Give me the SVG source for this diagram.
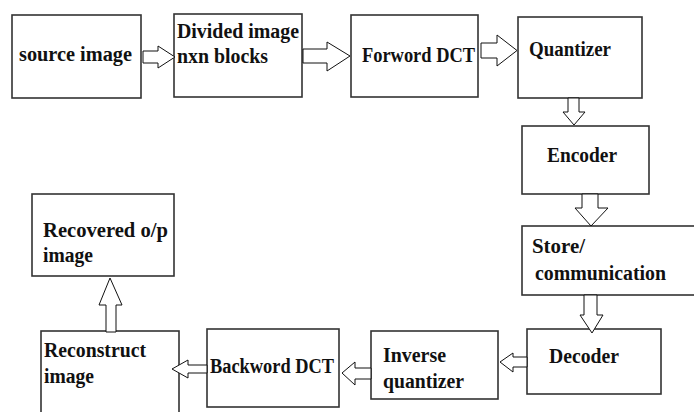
<svg xmlns="http://www.w3.org/2000/svg" width="694" height="412" viewBox="0 0 694 412">
<style>
.box{fill:#fff;stroke:#333;stroke-width:1.6}
.arr{fill:#fff;stroke:#111;stroke-width:1;stroke-linejoin:miter}
text{font-family:"Liberation Serif","Times New Roman",serif;font-weight:bold;font-size:20px;fill:#111}
</style>
<rect width="694" height="412" fill="#fff"/>
<g id="source"><rect class="box" x="12" y="15" width="129" height="83"/><text x="19" y="61" textLength="113" lengthAdjust="spacingAndGlyphs">source image</text></g>
<g id="divided"><rect class="box" x="174" y="14" width="128" height="83"/><text x="177" y="38" textLength="122" lengthAdjust="spacingAndGlyphs">Divided image</text><text x="177" y="63" textLength="91" lengthAdjust="spacingAndGlyphs">nxn blocks</text></g>
<g id="fdct"><rect class="box" x="351" y="15" width="127" height="82"/><text x="362" y="62" textLength="113" lengthAdjust="spacingAndGlyphs">Forword DCT</text></g>
<g id="quantizer"><rect class="box" x="518" y="17" width="124" height="81"/><text x="529" y="56" textLength="82" lengthAdjust="spacingAndGlyphs">Quantizer</text></g>
<g id="encoder"><rect class="box" x="522" y="126" width="127" height="68"/><text x="547" y="162" textLength="70" lengthAdjust="spacingAndGlyphs">Encoder</text></g>
<g id="store"><rect class="box" x="522" y="226" width="180" height="69"/><text x="532" y="253" textLength="53" lengthAdjust="spacingAndGlyphs">Store/</text><text x="535" y="280" textLength="131" lengthAdjust="spacingAndGlyphs">communication</text></g>
<g id="decoder"><rect class="box" x="527" y="329" width="134" height="65"/><text x="549" y="363" textLength="70" lengthAdjust="spacingAndGlyphs">Decoder</text></g>
<g id="invq"><rect class="box" x="371" y="331" width="127" height="68"/><text x="383" y="362" textLength="63" lengthAdjust="spacingAndGlyphs">Inverse</text><text x="383" y="388" textLength="81" lengthAdjust="spacingAndGlyphs">quantizer</text></g>
<g id="bdct"><rect class="box" x="207" y="329" width="132" height="78"/><text x="210" y="373" textLength="124" lengthAdjust="spacingAndGlyphs">Backword DCT</text></g>
<g id="reconstruct"><rect class="box" x="41" y="331" width="138" height="90"/><text x="44" y="357" textLength="102" lengthAdjust="spacingAndGlyphs">Reconstruct</text><text x="44" y="383" textLength="50" lengthAdjust="spacingAndGlyphs">image</text></g>
<g id="recovered"><rect class="box" x="32" y="194" width="142" height="82"/><text x="43" y="237" textLength="125" lengthAdjust="spacingAndGlyphs">Recovered o/p</text><text x="43" y="262" textLength="50" lengthAdjust="spacingAndGlyphs">image</text></g>
<g id="connectors">
<polygon class="arr" points="143,51 158,51 158,46 175,57 158,68 158,63 143,63"/>
<polygon class="arr" points="303,49 327,49 327,42 350,56 327,71 327,63 303,63"/>
<polygon class="arr" points="481,43 497,43 497,35 517,50.5 497,66 497,58 481,58"/>
<polygon class="arr" points="568,98 579,98 579,112 585,112 574,125 563,112 568,112"/>
<polygon class="arr" points="582,194 598,194 598,208 608,208 591,226 575,208 582,208"/>
<polygon class="arr" points="584,295 597,295 597,315 603,315 592,333 580,315 584,315"/>
<polygon class="arr" points="527,357 513,357 513,353 500,362 513,372 513,367 527,367"/>
<polygon class="arr" points="371,368 355,368 355,362 342,373 355,385 355,379 371,379"/>
<polygon class="arr" points="207,365 188,365 188,360 172,369 188,378 188,373 207,373"/>
<polygon class="arr" points="106,332 106,305 99,305 110,278 122,305 116,305 116,332"/>
</g>
</svg>
